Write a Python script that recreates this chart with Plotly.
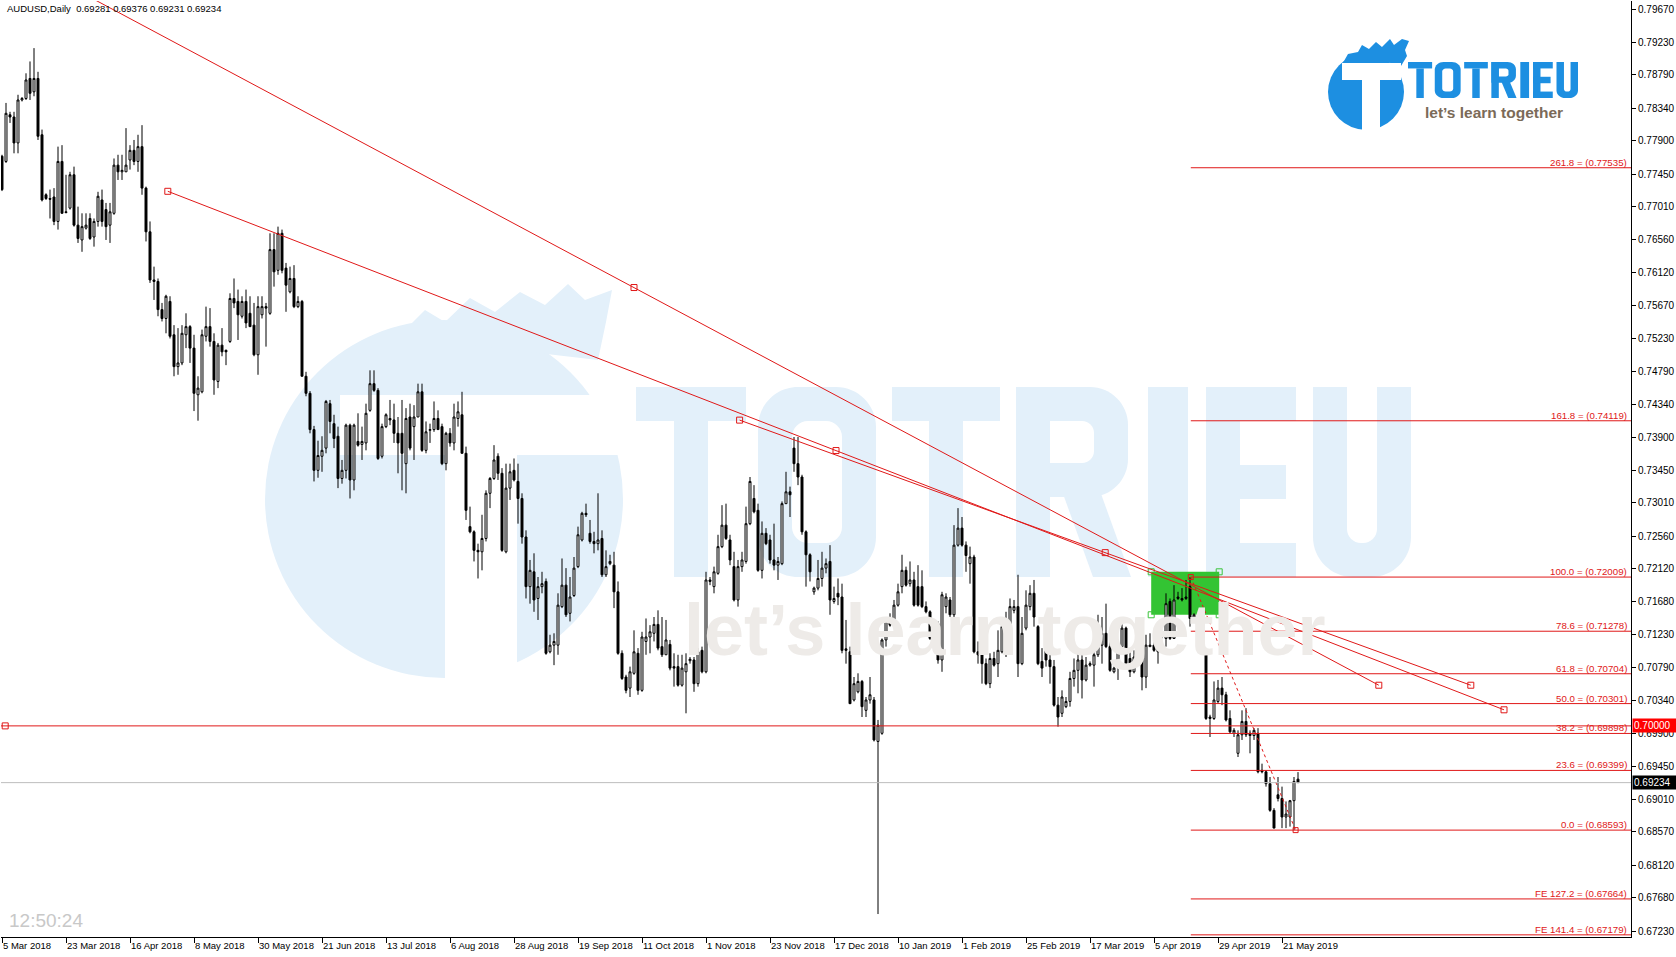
import plotly.graph_objects as go

# ---------------- data ----------------
symbol = "AUDUSD,Daily"
last_ohlc = [0.69281, 0.69376, 0.69231, 0.69234]
clock_text = "12:50:24"

bar_open = [
    0.7769, 0.7762, 0.7825, 0.7822, 0.7787, 0.7845, 0.7847, 0.7874, 0.7856, 0.7874,
    0.7798, 0.7717, 0.7712, 0.7714, 0.7681, 0.7762, 0.7694, 0.7699, 0.7744, 0.7676,
    0.7656, 0.7672, 0.7685, 0.7660, 0.7681, 0.7710, 0.7697, 0.7676, 0.7692, 0.7757,
    0.7748, 0.7748, 0.7764, 0.7777, 0.7762, 0.7782, 0.7726, 0.7667, 0.7602, 0.7600,
    0.7562, 0.7550, 0.7573, 0.7528, 0.7485, 0.7490, 0.7528, 0.7539, 0.7510, 0.7447,
    0.7451, 0.7526, 0.7539, 0.7519, 0.7465, 0.7514, 0.7507, 0.7519, 0.7577, 0.7573,
    0.7553, 0.7573, 0.7557, 0.7541, 0.7501, 0.7555, 0.7566, 0.7557, 0.7643, 0.7615,
    0.7665, 0.7618, 0.7586, 0.7604, 0.7566, 0.7573, 0.7472, 0.7449, 0.7400, 0.7345,
    0.7364, 0.7375, 0.7435, 0.7408, 0.7391, 0.7334, 0.7345, 0.7406, 0.7332, 0.7384,
    0.7380, 0.7382, 0.7426, 0.7462, 0.7453, 0.7364, 0.7404, 0.7415, 0.7413, 0.7395,
    0.7395, 0.7354, 0.7417, 0.7404, 0.7417, 0.7451, 0.7372, 0.7399, 0.7400, 0.7415,
    0.7404, 0.7354, 0.7395, 0.7382, 0.7415, 0.7420, 0.7368, 0.7269, 0.7262, 0.7237,
    0.7235, 0.7253, 0.7314, 0.7334, 0.7364, 0.7341, 0.7235, 0.7321, 0.7345, 0.7330,
    0.7307, 0.7255, 0.7188, 0.7208, 0.7172, 0.7188, 0.7195, 0.7100, 0.7109, 0.7109,
    0.7161, 0.7190, 0.7152, 0.7176, 0.7215, 0.7251, 0.7287, 0.7260, 0.7249, 0.7246,
    0.7253, 0.7204, 0.7219, 0.7217, 0.7181, 0.7098, 0.7066, 0.7051, 0.7071, 0.7098,
    0.7048, 0.7114, 0.7120, 0.7125, 0.7137, 0.7107, 0.7096, 0.7110, 0.7080, 0.7080,
    0.7055, 0.7073, 0.7088, 0.7089, 0.7057, 0.7102, 0.7073, 0.7197, 0.7188, 0.7206,
    0.7242, 0.7271, 0.7251, 0.7215, 0.7170, 0.7215, 0.7222, 0.7273, 0.7307, 0.7291,
    0.7210, 0.7260, 0.7251, 0.7224, 0.7217, 0.7219, 0.7300, 0.7316, 0.7375, 0.7354,
    0.7336, 0.7262, 0.7231, 0.7181, 0.7186, 0.7199, 0.7213, 0.7222, 0.7168, 0.7179,
    0.7174, 0.7104, 0.7100, 0.7035, 0.7046, 0.7060, 0.7021, 0.7035, 0.7035, 0.6979,
    0.6990, 0.7116, 0.7143, 0.7143, 0.7163, 0.7188, 0.7210, 0.7192, 0.7197, 0.7188,
    0.7188, 0.7161, 0.7154, 0.7116, 0.7138, 0.7089, 0.7161, 0.7170, 0.7150, 0.7244,
    0.7267, 0.7244, 0.7219, 0.7228, 0.7100, 0.7098, 0.7084, 0.7057, 0.7091, 0.7084,
    0.7100, 0.7129, 0.7127, 0.7156, 0.7161, 0.7084, 0.7132, 0.7161, 0.7179, 0.7134,
    0.7087, 0.7102, 0.7089, 0.7080, 0.7028, 0.7017, 0.7026, 0.7033, 0.7064, 0.7075,
    0.7089, 0.7062, 0.7082, 0.7082, 0.7096, 0.7109, 0.7125, 0.7107, 0.7073, 0.7078,
    0.7107, 0.7132, 0.7091, 0.7073, 0.7114, 0.7107, 0.7066, 0.7107, 0.7109, 0.7100,
    0.7120, 0.7118, 0.7168, 0.7118, 0.7174, 0.7172, 0.7172, 0.7188, 0.7145, 0.7145,
    0.7127, 0.7098, 0.7012, 0.7010, 0.7033, 0.7051, 0.7042, 0.7010, 0.6990, 0.6963,
    0.6988, 0.7006, 0.6990, 0.6987, 0.6990, 0.6940, 0.6938, 0.6922, 0.6886, 0.6907,
    0.6902, 0.6877, 0.6877, 0.6899, 0.69281,
]
bar_high = [
    0.7771, 0.7841, 0.7829, 0.7829, 0.7852, 0.7849, 0.7881, 0.7897, 0.7915, 0.7883,
    0.7805, 0.7719, 0.7724, 0.7726, 0.7782, 0.7784, 0.7744, 0.7748, 0.7755, 0.7701,
    0.7692, 0.7692, 0.7692, 0.7685, 0.7721, 0.7724, 0.7706, 0.7706, 0.7766, 0.7771,
    0.7771, 0.7807, 0.7784, 0.7791, 0.7798, 0.7811, 0.7728, 0.7681, 0.7620, 0.7604,
    0.7571, 0.7582, 0.7580, 0.7541, 0.7537, 0.7541, 0.7557, 0.7541, 0.7528, 0.7472,
    0.7535, 0.7566, 0.7564, 0.7530, 0.7517, 0.7537, 0.7508, 0.7584, 0.7604, 0.7589,
    0.7580, 0.7589, 0.7580, 0.7571, 0.7580, 0.7580, 0.7571, 0.7665, 0.7665, 0.7674,
    0.7670, 0.7625, 0.7620, 0.7622, 0.7580, 0.7575, 0.7478, 0.7452, 0.7405, 0.7385,
    0.7391, 0.7440, 0.7440, 0.7420, 0.7404, 0.7359, 0.7408, 0.7408, 0.7408, 0.7422,
    0.7404, 0.7435, 0.7480, 0.7480, 0.7456, 0.7408, 0.7422, 0.7440, 0.7435, 0.7417,
    0.7440, 0.7429, 0.7435, 0.7433, 0.7462, 0.7462, 0.7411, 0.7408, 0.7438, 0.7426,
    0.7408, 0.7397, 0.7402, 0.7435, 0.7438, 0.7451, 0.7377, 0.7296, 0.7264, 0.7246,
    0.7285, 0.7318, 0.7336, 0.7379, 0.7368, 0.7348, 0.7354, 0.7354, 0.7361, 0.7354,
    0.7314, 0.7264, 0.7224, 0.7233, 0.7201, 0.7208, 0.7199, 0.7123, 0.7125, 0.7179,
    0.7226, 0.7213, 0.7201, 0.7228, 0.7269, 0.7289, 0.7300, 0.7278, 0.7262, 0.7314,
    0.7264, 0.7237, 0.7231, 0.7235, 0.7195, 0.7102, 0.7069, 0.7080, 0.7129, 0.7105,
    0.7127, 0.7145, 0.7136, 0.7147, 0.7156, 0.7147, 0.7143, 0.7116, 0.7098, 0.7096,
    0.7096, 0.7098, 0.7093, 0.7093, 0.7105, 0.7107, 0.7208, 0.7201, 0.7215, 0.7258,
    0.7298, 0.7300, 0.7258, 0.7235, 0.7224, 0.7235, 0.7296, 0.7336, 0.7325, 0.7300,
    0.7276, 0.7267, 0.7258, 0.7273, 0.7228, 0.7303, 0.7343, 0.7323, 0.7390, 0.7390,
    0.7339, 0.7264, 0.7233, 0.7188, 0.7224, 0.7235, 0.7226, 0.7244, 0.7188, 0.7199,
    0.7192, 0.7143, 0.7107, 0.7066, 0.7071, 0.7062, 0.7039, 0.7066, 0.7039, 0.7008,
    0.7118, 0.7145, 0.7152, 0.7170, 0.7192, 0.7231, 0.7215, 0.7222, 0.7208, 0.7217,
    0.7210, 0.7168, 0.7156, 0.7143, 0.7141, 0.7181, 0.7179, 0.7174, 0.7271, 0.7294,
    0.7282, 0.7249, 0.7242, 0.7231, 0.7114, 0.7102, 0.7091, 0.7098, 0.7100, 0.7129,
    0.7145, 0.7154, 0.7172, 0.7170, 0.7204, 0.7147, 0.7183, 0.7190, 0.7197, 0.7136,
    0.7105, 0.7105, 0.7100, 0.7089, 0.7039, 0.7048, 0.7039, 0.7073, 0.7091, 0.7098,
    0.7098, 0.7093, 0.7087, 0.7109, 0.7150, 0.7147, 0.7165, 0.7116, 0.7080, 0.7114,
    0.7145, 0.7134, 0.7100, 0.7102, 0.7127, 0.7123, 0.7123, 0.7125, 0.7125, 0.7127,
    0.7125, 0.7179, 0.7172, 0.7190, 0.7181, 0.7186, 0.7197, 0.72009, 0.7152, 0.7147,
    0.7129, 0.7100, 0.7015, 0.7060, 0.7062, 0.7066, 0.7046, 0.7021, 0.6997, 0.6994,
    0.7021, 0.7024, 0.6994, 0.6997, 0.6997, 0.6949, 0.6940, 0.6931, 0.6889, 0.6931,
    0.6918, 0.6898, 0.6900, 0.6931, 0.69376,
]
bar_low = [
    0.7722, 0.7760, 0.7814, 0.7773, 0.7773, 0.7843, 0.7845, 0.7845, 0.7850, 0.7791,
    0.7708, 0.7710, 0.7685, 0.7676, 0.7670, 0.7692, 0.7692, 0.7697, 0.7674, 0.7652,
    0.7640, 0.7670, 0.7656, 0.7647, 0.7674, 0.7674, 0.7656, 0.7652, 0.7690, 0.7737,
    0.7737, 0.7748, 0.7751, 0.7757, 0.7748, 0.7717, 0.7654, 0.7598, 0.7575, 0.7553,
    0.7546, 0.7530, 0.7523, 0.7472, 0.7474, 0.7487, 0.7510, 0.7490, 0.7425, 0.7412,
    0.7449, 0.7519, 0.7512, 0.7447, 0.7456, 0.7499, 0.7487, 0.7517, 0.7564, 0.7521,
    0.7550, 0.7537, 0.7539, 0.7499, 0.7474, 0.7550, 0.7512, 0.7555, 0.7593, 0.7609,
    0.7611, 0.7559, 0.7584, 0.7564, 0.7564, 0.7472, 0.7445, 0.7395, 0.7330, 0.7335,
    0.7343, 0.7368, 0.7395, 0.7375, 0.7321, 0.7327, 0.7334, 0.7307, 0.7318, 0.7377,
    0.7359, 0.7372, 0.7424, 0.7451, 0.7359, 0.7361, 0.7402, 0.7406, 0.7382, 0.7341,
    0.7318, 0.7314, 0.7372, 0.7359, 0.7417, 0.7370, 0.7368, 0.7382, 0.7397, 0.7400,
    0.7352, 0.7345, 0.7377, 0.7372, 0.7404, 0.7368, 0.7278, 0.7260, 0.7222, 0.7199,
    0.7210, 0.7249, 0.7294, 0.7332, 0.7332, 0.7235, 0.7233, 0.7305, 0.7330, 0.7273,
    0.7246, 0.7172, 0.7165, 0.7154, 0.7143, 0.7179, 0.7096, 0.7098, 0.7082, 0.7096,
    0.7159, 0.7147, 0.7141, 0.7174, 0.7213, 0.7249, 0.7282, 0.7246, 0.7233, 0.7237,
    0.7201, 0.7201, 0.7217, 0.7159, 0.7096, 0.7062, 0.7044, 0.7039, 0.7069, 0.7042,
    0.7046, 0.7096, 0.7098, 0.7114, 0.7102, 0.7093, 0.7096, 0.7075, 0.7053, 0.7053,
    0.7053, 0.7017, 0.7084, 0.7046, 0.7053, 0.7071, 0.7071, 0.7190, 0.7179, 0.7204,
    0.7240, 0.7251, 0.7217, 0.7168, 0.7161, 0.7208, 0.7219, 0.7271, 0.7287, 0.7208,
    0.7199, 0.7244, 0.7219, 0.7210, 0.7197, 0.7217, 0.7300, 0.7282, 0.7343, 0.7325,
    0.7258, 0.7188, 0.7195, 0.7177, 0.7183, 0.7188, 0.7206, 0.7150, 0.7165, 0.7163,
    0.7098, 0.7084, 0.7030, 0.7033, 0.7044, 0.7012, 0.7012, 0.7030, 0.6979, 0.6746,
    0.6988, 0.7107, 0.7134, 0.7134, 0.7161, 0.7179, 0.7188, 0.7188, 0.7161, 0.7161,
    0.7159, 0.7152, 0.7116, 0.7114, 0.7084, 0.7073, 0.7152, 0.7147, 0.7147, 0.7242,
    0.7242, 0.7208, 0.7192, 0.7098, 0.7084, 0.7057, 0.7055, 0.7051, 0.7080, 0.7066,
    0.7098, 0.7093, 0.7125, 0.7152, 0.7066, 0.7082, 0.7129, 0.7156, 0.7134, 0.7082,
    0.7066, 0.7080, 0.7057, 0.7026, 0.6999, 0.7012, 0.7024, 0.7026, 0.7053, 0.7044,
    0.7037, 0.7060, 0.7080, 0.7053, 0.7093, 0.7084, 0.7105, 0.7073, 0.7071, 0.7062,
    0.7105, 0.7082, 0.7066, 0.7071, 0.7105, 0.7048, 0.7051, 0.7107, 0.7100, 0.7084,
    0.7118, 0.7107, 0.7116, 0.7118, 0.7170, 0.7168, 0.7170, 0.7134, 0.7143, 0.7125,
    0.7096, 0.7008, 0.6985, 0.7008, 0.7030, 0.7028, 0.7006, 0.6990, 0.6985, 0.6958,
    0.6981, 0.6985, 0.6963, 0.6981, 0.6936, 0.6936, 0.6918, 0.6884, 0.6862, 0.6898,
    0.6862, 0.6862, 0.6864, 0.68593, 0.69231,
]
bar_close = [
    0.7724, 0.7827, 0.7822, 0.7787, 0.7845, 0.7847, 0.7872, 0.7854, 0.7874, 0.7796,
    0.7710, 0.7712, 0.7711, 0.7681, 0.7762, 0.7692, 0.7693, 0.7744, 0.7676, 0.7658,
    0.7674, 0.7676, 0.7658, 0.7681, 0.7715, 0.7681, 0.7674, 0.7694, 0.7757, 0.7748,
    0.7750, 0.7757, 0.7777, 0.7762, 0.7782, 0.7726, 0.7667, 0.7602, 0.7600, 0.7562,
    0.7550, 0.7580, 0.7526, 0.7485, 0.7490, 0.7530, 0.7539, 0.7510, 0.7449, 0.7456,
    0.7528, 0.7539, 0.7519, 0.7467, 0.7514, 0.7505, 0.7505, 0.7577, 0.7571, 0.7555,
    0.7573, 0.7544, 0.7539, 0.7501, 0.7566, 0.7566, 0.7564, 0.7643, 0.7613, 0.7665,
    0.7615, 0.7595, 0.7604, 0.7566, 0.7573, 0.7472, 0.7449, 0.7400, 0.7345, 0.7365,
    0.7372, 0.7438, 0.7411, 0.7388, 0.7334, 0.7345, 0.7406, 0.7332, 0.7406, 0.7379,
    0.7384, 0.7422, 0.7462, 0.7453, 0.7361, 0.7404, 0.7420, 0.7413, 0.7395, 0.7382,
    0.7368, 0.7415, 0.7375, 0.7417, 0.7451, 0.7372, 0.7397, 0.7400, 0.7415, 0.7400,
    0.7354, 0.7395, 0.7382, 0.7417, 0.7424, 0.7368, 0.7291, 0.7262, 0.7237, 0.7235,
    0.7253, 0.7314, 0.7334, 0.7359, 0.7341, 0.7237, 0.7321, 0.7343, 0.7332, 0.7307,
    0.7255, 0.7188, 0.7210, 0.7170, 0.7188, 0.7192, 0.7098, 0.7109, 0.7114, 0.7163,
    0.7190, 0.7150, 0.7174, 0.7213, 0.7258, 0.7287, 0.7285, 0.7249, 0.7246, 0.7251,
    0.7204, 0.7215, 0.7222, 0.7181, 0.7098, 0.7064, 0.7048, 0.7073, 0.7100, 0.7048,
    0.7120, 0.7120, 0.7127, 0.7137, 0.7105, 0.7096, 0.7116, 0.7078, 0.7078, 0.7055,
    0.7078, 0.7084, 0.7090, 0.7057, 0.7100, 0.7073, 0.7197, 0.7195, 0.7208, 0.7242,
    0.7271, 0.7253, 0.7224, 0.7170, 0.7215, 0.7224, 0.7273, 0.7330, 0.7289, 0.7210,
    0.7260, 0.7246, 0.7224, 0.7217, 0.7222, 0.7300, 0.7316, 0.7312, 0.7354, 0.7336,
    0.7262, 0.7231, 0.7208, 0.7186, 0.7199, 0.7213, 0.7219, 0.7170, 0.7172, 0.7174,
    0.7102, 0.7102, 0.7030, 0.7057, 0.7060, 0.7026, 0.7035, 0.7042, 0.6981, 0.7001,
    0.7116, 0.7143, 0.7136, 0.7163, 0.7181, 0.7210, 0.7190, 0.7197, 0.7163, 0.7163,
    0.7161, 0.7154, 0.7118, 0.7136, 0.7089, 0.7177, 0.7174, 0.7150, 0.7244, 0.7267,
    0.7244, 0.7230, 0.7228, 0.7100, 0.7096, 0.7084, 0.7057, 0.7091, 0.7082, 0.7102,
    0.7134, 0.7125, 0.7161, 0.7161, 0.7084, 0.7125, 0.7163, 0.7179, 0.7147, 0.7084,
    0.7078, 0.7089, 0.7080, 0.7028, 0.7012, 0.7039, 0.7033, 0.7064, 0.7075, 0.7089,
    0.7062, 0.7082, 0.7084, 0.7096, 0.7109, 0.7125, 0.7107, 0.7075, 0.7078, 0.7109,
    0.7132, 0.7084, 0.7073, 0.7093, 0.7107, 0.7066, 0.7109, 0.7109, 0.7102, 0.7123,
    0.7123, 0.7165, 0.7118, 0.7170, 0.7172, 0.7170, 0.7174, 0.7145, 0.7150, 0.7127,
    0.7098, 0.7010, 0.7010, 0.7035, 0.7051, 0.7042, 0.7008, 0.6992, 0.6994, 0.6988,
    0.7006, 0.6988, 0.6987, 0.6994, 0.6938, 0.6938, 0.6922, 0.6886, 0.6862, 0.6902,
    0.6877, 0.6881, 0.6899, 0.6925, 0.69234,
]

date_tick_bars = [0, 16, 32, 48, 64, 80, 96, 112, 128, 144, 160,
                  176, 192, 208, 224, 240, 256, 272, 288, 304, 320]
date_tick_labels = ["5 Mar 2018", "23 Mar 2018", "16 Apr 2018", "8 May 2018",
                    "30 May 2018", "21 Jun 2018", "13 Jul 2018", "6 Aug 2018",
                    "28 Aug 2018", "19 Sep 2018", "11 Oct 2018", "1 Nov 2018",
                    "23 Nov 2018", "17 Dec 2018", "10 Jan 2019", "1 Feb 2019",
                    "25 Feb 2019", "17 Mar 2019", "5 Apr 2019", "29 Apr 2019",
                    "21 May 2019"]

price_ticks = [0.79670, 0.79230, 0.78790, 0.78340, 0.77900, 0.77450, 0.77010,
               0.76560, 0.76120, 0.75670, 0.75230, 0.74790, 0.74340, 0.73900,
               0.73450, 0.73010, 0.72560, 0.72120, 0.71680, 0.71230, 0.70790,
               0.70340, 0.69900, 0.69450, 0.69010, 0.68570, 0.68120, 0.67680,
               0.67230]

fib_names = ["261.8", "161.8", "100.0", "78.6", "61.8", "50.0", "38.2", "23.6",
             "0.0", "FE 127.2", "FE 141.4"]
fib_prices = [0.77535, 0.74119, 0.72009, 0.71278, 0.70704, 0.70301, 0.69898,
              0.69399, 0.68593, 0.67664, 0.67179]
fib_anchor_bars = [297.2, 323.4]
fib_anchor_prices = [0.72009, 0.68593]

# trend lines: start / middle / end anchors (bar index, price)
trend_bars = [[-28.3, 158.0, 344.2], [41.45, 208.5, 375.5], [184.4, 275.8, 367.2]]
trend_prices = [[0.81287, 0.75918, 0.70549], [0.77217, 0.73717, 0.70217],
                [0.74128, 0.72339, 0.70549]]

level_price = 0.70000
level_anchor_bar = 0.8
bid_price = last_ohlc[3]

zone_bars = [287.3, 304.3]
zone_prices = [0.7150, 0.7208]

# ---------------- layout constants ----------------
W, H = 1676, 957
PL, PR, PT, PB = 1, 1631, 1, 937
X_RANGE = [-0.25, 407.25]
Y_RANGE = [0.67150, 0.79786]
RED = "#e01818"
FONT = "Liberation Sans, Arial, sans-serif"
WM_BLUE = "#e3f0fa"
WM_GRAY = "#eeebe8"
LOGO_BLUE = "#1d8fe1"


def fx(p):
    return (p - PL) / (PR - PL)


def fy(p):
    return 1 - (p - PT) / (PB - PT)


def P(x, y):
    return f"{fx(x):.6f},{fy(y):.6f}"


def rrect_path(x0, y0, x1, y1, rx, ry):
    k = 0.5523
    s = f"M {P(x0 + rx[0], y0)} L {P(x1 - rx[1], y0)} "
    s += f"C {P(x1 - rx[1] + k * rx[1], y0)} {P(x1, y0 + ry[1] - k * ry[1])} {P(x1, y0 + ry[1])} "
    s += f"L {P(x1, y1 - ry[2])} "
    s += f"C {P(x1, y1 - ry[2] + k * ry[2])} {P(x1 - rx[2] + k * rx[2], y1)} {P(x1 - rx[2], y1)} "
    s += f"L {P(x0 + rx[3], y1)} "
    s += f"C {P(x0 + rx[3] - k * rx[3], y1)} {P(x0, y1 - ry[3] + k * ry[3])} {P(x0, y1 - ry[3])} "
    s += f"L {P(x0, y0 + ry[0])} "
    s += f"C {P(x0, y0 + ry[0] - k * ry[0])} {P(x0 + rx[0] - k * rx[0], y0)} {P(x0 + rx[0], y0)} Z"
    return s


# block-letter glyphs for the word "TOTRIEU" in a 775 x 190 box
WORD_GLYPHS = [
    ("rect", (0, 0, 110, 34), "fg"), ("rect", (38, 34, 72, 190), "fg"),
    ("rr", (122, 0, 240, 190, (40, 40, 40, 40)), "fg"),
    ("rr", (156, 34, 206, 156, (16, 16, 16, 16)), "bg"),
    ("rect", (256, 0, 364, 34), "fg"), ("rect", (293, 34, 327, 190), "fg"),
    ("rr", (380, 0, 492, 110, (0, 38, 38, 0)), "fg"),
    ("rr", (414, 34, 458, 76, (0, 12, 12, 0)), "bg"),
    ("rect", (380, 0, 414, 190), "fg"),
    ("poly", [(426, 104), (464, 104), (495, 190), (457, 190)], "fg"),
    ("rect", (512, 0, 552, 190), "fg"),
    ("rect", (570, 0, 604, 190), "fg"), ("rect", (570, 0, 660, 34), "fg"),
    ("rect", (570, 78, 650, 112), "fg"), ("rect", (570, 156, 660, 190), "fg"),
    ("rr", (677, 0, 775, 190, (0, 0, 40, 40)), "fg"),
    ("rr", (711, -1, 741, 156, (0, 0, 14, 14)), "bg"),
]


def add_word(fig, ox, oy, sx, sy, fg, bg, layer):
    for kind, g, col in WORD_GLYPHS:
        color = fg if col == "fg" else bg
        if kind == "rect":
            x0, y0, x1, y1 = g
            fig.add_shape(type="rect", xref="paper", yref="paper",
                          x0=fx(ox + x0 * sx), x1=fx(ox + x1 * sx),
                          y0=fy(oy + y1 * sy), y1=fy(oy + y0 * sy),
                          fillcolor=color, line=dict(width=0), layer=layer)
        elif kind == "rr":
            x0, y0, x1, y1, r = g
            path = rrect_path(ox + x0 * sx, oy + y0 * sy, ox + x1 * sx, oy + y1 * sy,
                              [v * sx for v in r], [v * sy for v in r])
            fig.add_shape(type="path", xref="paper", yref="paper", path=path,
                          fillcolor=color, line=dict(width=0), layer=layer)
        else:
            path = "M " + " L ".join(P(ox + a * sx, oy + b * sy) for a, b in g) + " Z"
            fig.add_shape(type="path", xref="paper", yref="paper", path=path,
                          fillcolor=color, line=dict(width=0), layer=layer)


fig = go.Figure()

# ---------------- watermark (background) ----------------
fig.add_shape(type="circle", xref="paper", yref="paper",
              x0=fx(265), x1=fx(623), y0=fy(678), y1=fy(320),
              fillcolor=WM_BLUE, line=dict(width=0), layer="below")
flame_pts = [(400, 335), (425, 310), (445, 322), (470, 298), (495, 312), (520, 292),
             (545, 305), (568, 284), (585, 300), (612, 290), (606, 322), (598, 360),
             (470, 345)]
path = "M " + " L ".join(P(a, b) for a, b in flame_pts) + " Z"
fig.add_shape(type="path", xref="paper", yref="paper", path=path,
              fillcolor=WM_BLUE, line=dict(width=0), layer="below")
fig.add_shape(type="rect", xref="paper", yref="paper",
              x0=fx(340), x1=fx(640), y0=fy(455), y1=fy(395),
              fillcolor="white", line=dict(width=0), layer="below")
fig.add_shape(type="rect", xref="paper", yref="paper",
              x0=fx(445), x1=fx(517), y0=fy(690), y1=fy(455),
              fillcolor="white", line=dict(width=0), layer="below")
add_word(fig, 636, 387, 1.0, 1.0, WM_BLUE, "white", "below")
fig.add_annotation(xref="paper", yref="paper", x=fx(1005), y=fy(630),
                   text="let’s learn together", showarrow=False,
                   xanchor="center", yanchor="middle",
                   font=dict(family=FONT, size=72, color=WM_GRAY, weight="bold"))

# green zone
fig.add_shape(type="rect", xref="x", yref="y", x0=zone_bars[0], x1=zone_bars[1],
              y0=zone_prices[0], y1=zone_prices[1], fillcolor="#33c433",
              line=dict(width=0), layer="below")

# ---------------- candles ----------------
fig.add_trace(go.Candlestick(
    x=list(range(len(bar_close))), open=bar_open, high=bar_high, low=bar_low,
    close=bar_close,
    increasing=dict(line=dict(color="black", width=1), fillcolor="white"),
    decreasing=dict(line=dict(color="black", width=1), fillcolor="black"),
    whiskerwidth=0, hoverinfo="skip"))

# zone corner markers
fig.add_trace(go.Scatter(
    x=[zone_bars[0], zone_bars[1], zone_bars[0], zone_bars[1]],
    y=[zone_prices[1], zone_prices[1], zone_prices[0], zone_prices[0]],
    mode="markers", marker=dict(symbol="square-open", size=6, color="#3cc43c",
                                line=dict(width=1)), hoverinfo="skip"))

# horizontal lines
fig.add_shape(type="line", xref="paper", yref="y", x0=0, x1=1, y0=bid_price,
              y1=bid_price, line=dict(color="#bdbdbd", width=1))
fig.add_shape(type="line", xref="paper", yref="y", x0=0, x1=1, y0=level_price,
              y1=level_price, line=dict(color=RED, width=1))
fig.add_trace(go.Scatter(x=[level_anchor_bar], y=[level_price], mode="markers",
                         marker=dict(symbol="square-open", size=6, color=RED,
                                     line=dict(width=1)), hoverinfo="skip"))

# fibonacci levels
for name, price in zip(fib_names, fib_prices):
    fig.add_shape(type="line", xref="x", yref="y", x0=fib_anchor_bars[0],
                  x1=X_RANGE[1], y0=price, y1=price, line=dict(color=RED, width=1))
    fig.add_annotation(xref="x", yref="y", x=X_RANGE[1], y=price,
                       text=f"{name} = ({price:.5f})", showarrow=False,
                       xanchor="right", yanchor="bottom", xshift=-2, yshift=-2,
                       font=dict(family=FONT, size=9.7, color=RED))
fig.add_trace(go.Scatter(x=fib_anchor_bars, y=fib_anchor_prices, mode="lines+markers",
                         line=dict(color=RED, width=1, dash="dot"),
                         marker=dict(symbol="square-open", size=5, color=RED,
                                     line=dict(width=1)), hoverinfo="skip"))

# trend lines
for bx, by in zip(trend_bars, trend_prices):
    fig.add_trace(go.Scatter(x=bx, y=by, mode="lines+markers",
                             line=dict(color=RED, width=1),
                             marker=dict(symbol="square-open", size=6, color=RED,
                                         line=dict(width=1)),
                             hoverinfo="skip"))

# price boxes on the axis
fig.add_annotation(xref="paper", yref="y", x=1, y=level_price, text=f"{level_price:.5f}",
                   showarrow=False, xanchor="left", yanchor="middle", xshift=1,
                   bgcolor="#ff0000", borderpad=1, width=42, align="left",
                   font=dict(family=FONT, size=10, color="white"))
fig.add_annotation(xref="paper", yref="y", x=1, y=bid_price, text=f"{bid_price:.5f}",
                   showarrow=False, xanchor="left", yanchor="middle", xshift=1,
                   bgcolor="black", borderpad=1, width=42, align="left",
                   font=dict(family=FONT, size=10, color="white"))

# title and clock
title_txt = symbol + "&nbsp; " + " ".join(f"{v:.5f}" for v in last_ohlc)
fig.add_annotation(xref="paper", yref="paper", x=fx(5), y=fy(1), text=title_txt,
                   showarrow=False, xanchor="left", yanchor="top",
                   font=dict(family=FONT, size=9.5, color="black"))
fig.add_annotation(xref="paper", yref="paper", x=fx(7), y=fy(933), text=clock_text,
                   showarrow=False, xanchor="left", yanchor="bottom",
                   font=dict(family=FONT, size=19, color="#c8c8c8"))

# ---------------- logo (top right) ----------------
fig.add_shape(type="circle", xref="paper", yref="paper", x0=fx(1328), x1=fx(1404),
              y0=fy(130), y1=fy(54), fillcolor=LOGO_BLUE, line=dict(width=0),
              layer="above")
logo_flame = [(1340, 68), (1348, 54), (1358, 52), (1362, 45), (1369, 49), (1376, 42),
              (1382, 47), (1390, 39), (1394, 45), (1402, 39), (1409, 41), (1405, 50),
              (1407, 56), (1401, 66), (1380, 60)]
lpath = "M " + " L ".join(P(a, b) for a, b in logo_flame) + " Z"
fig.add_shape(type="path", xref="paper", yref="paper", path=lpath,
              fillcolor=LOGO_BLUE, line=dict(width=0), layer="above")
fig.add_shape(type="rect", xref="paper", yref="paper", x0=fx(1342), x1=fx(1401),
              y0=fy(80), y1=fy(63), fillcolor="white", line=dict(width=0), layer="above")
fig.add_shape(type="rect", xref="paper", yref="paper", x0=fx(1362), x1=fx(1380),
              y0=fy(131), y1=fy(80), fillcolor="white", line=dict(width=0), layer="above")
add_word(fig, 1408, 62, 170 / 775, 36 / 190, LOGO_BLUE, "white", "above")
fig.add_annotation(xref="paper", yref="paper", x=fx(1494), y=fy(112),
                   text="let’s learn together", showarrow=False,
                   xanchor="center", yanchor="middle",
                   font=dict(family=FONT, size=15.5, color="#7b6a58", weight="bold"))

# ---------------- axes ----------------
fig.update_layout(
    width=W, height=H,
    margin=dict(l=PL, r=W - PR, t=PT, b=H - PB, pad=0, autoexpand=False),
    paper_bgcolor="white", plot_bgcolor="white", showlegend=False,
    xaxis=dict(range=X_RANGE, tickmode="array", tickvals=date_tick_bars,
               ticktext=date_tick_labels, ticks="outside", ticklen=5,
               tickcolor="black", showline=True, linecolor="black", linewidth=1,
               showgrid=False, zeroline=False, ticklabelposition="outside right",
               tickangle=0, automargin=False,
               tickfont=dict(family=FONT, size=9.5, color="black"),
               rangeslider=dict(visible=False), fixedrange=True),
    yaxis=dict(range=Y_RANGE, side="right", tickmode="array", tickvals=price_ticks,
               ticktext=[f"{v:.5f}" for v in price_ticks], ticks="outside",
               ticklen=4, tickcolor="black", showline=True, linecolor="black",
               linewidth=1, showgrid=False, zeroline=False, automargin=False,
               tickfont=dict(family=FONT, size=10, color="black"), fixedrange=True),
)

fig.write_html("out.html", config={"displayModeBar": False},
               post_script="document.body.style.margin='0';")
